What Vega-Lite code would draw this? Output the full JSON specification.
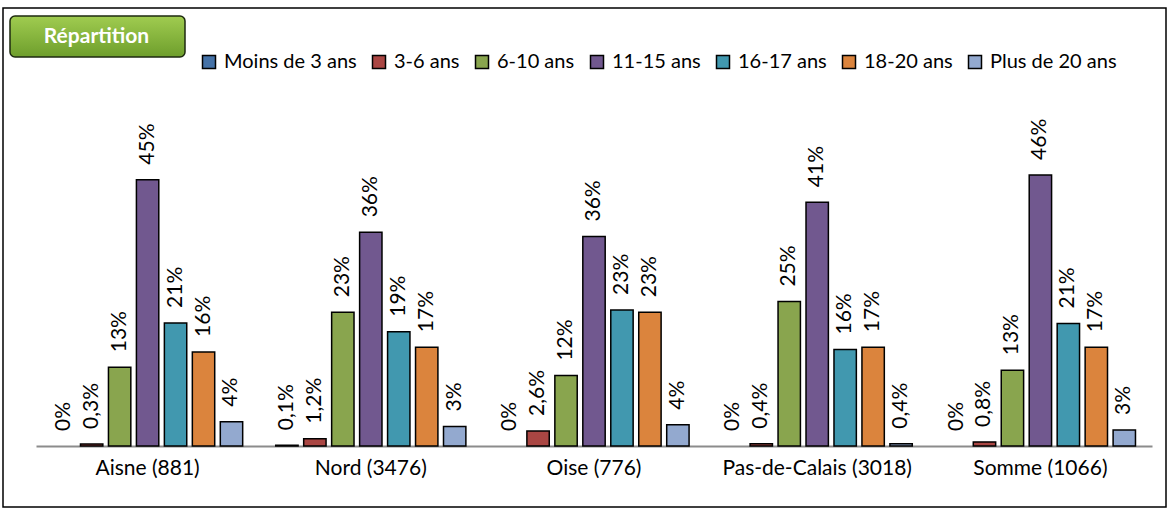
{
  "$schema": "https://vega.github.io/schema/vega-lite/v6.json",
  "width": 1163,
  "height": 499,
  "autosize": {"type": "none"},
  "padding": {"left": 3, "top": 8, "right": 3, "bottom": 6},
  "background": "white",
  "config": {
    "view": {"stroke": "black", "strokeWidth": 1.5},
    "font": "Lato"
  },
  "data": {
    "values": [
      {"region": "Aisne (881)", "age": "Moins de 3 ans", "value": 0, "label": "0%"},
      {"region": "Aisne (881)", "age": "3-6 ans", "value": 0.35, "label": "0,3%"},
      {"region": "Aisne (881)", "age": "6-10 ans", "value": 13.3, "label": "13%"},
      {"region": "Aisne (881)", "age": "11-15 ans", "value": 45.0, "label": "45%"},
      {"region": "Aisne (881)", "age": "16-17 ans", "value": 20.8, "label": "21%"},
      {"region": "Aisne (881)", "age": "18-20 ans", "value": 15.9, "label": "16%"},
      {"region": "Aisne (881)", "age": "Plus de 20 ans", "value": 4.1, "label": "4%"},
      {"region": "Nord (3476)", "age": "Moins de 3 ans", "value": 0.15, "label": "0,1%"},
      {"region": "Nord (3476)", "age": "3-6 ans", "value": 1.25, "label": "1,2%"},
      {"region": "Nord (3476)", "age": "6-10 ans", "value": 22.6, "label": "23%"},
      {"region": "Nord (3476)", "age": "11-15 ans", "value": 36.1, "label": "36%"},
      {"region": "Nord (3476)", "age": "16-17 ans", "value": 19.3, "label": "19%"},
      {"region": "Nord (3476)", "age": "18-20 ans", "value": 16.7, "label": "17%"},
      {"region": "Nord (3476)", "age": "Plus de 20 ans", "value": 3.3, "label": "3%"},
      {"region": "Oise (776)", "age": "Moins de 3 ans", "value": 0, "label": "0%"},
      {"region": "Oise (776)", "age": "3-6 ans", "value": 2.55, "label": "2,6%"},
      {"region": "Oise (776)", "age": "6-10 ans", "value": 11.9, "label": "12%"},
      {"region": "Oise (776)", "age": "11-15 ans", "value": 35.4, "label": "36%"},
      {"region": "Oise (776)", "age": "16-17 ans", "value": 23.0, "label": "23%"},
      {"region": "Oise (776)", "age": "18-20 ans", "value": 22.6, "label": "23%"},
      {"region": "Oise (776)", "age": "Plus de 20 ans", "value": 3.6, "label": "4%"},
      {"region": "Pas-de-Calais (3018)", "age": "Moins de 3 ans", "value": 0, "label": "0%"},
      {"region": "Pas-de-Calais (3018)", "age": "3-6 ans", "value": 0.4, "label": "0,4%"},
      {"region": "Pas-de-Calais (3018)", "age": "6-10 ans", "value": 24.4, "label": "25%"},
      {"region": "Pas-de-Calais (3018)", "age": "11-15 ans", "value": 41.2, "label": "41%"},
      {"region": "Pas-de-Calais (3018)", "age": "16-17 ans", "value": 16.3, "label": "16%"},
      {"region": "Pas-de-Calais (3018)", "age": "18-20 ans", "value": 16.7, "label": "17%"},
      {"region": "Pas-de-Calais (3018)", "age": "Plus de 20 ans", "value": 0.4, "label": "0,4%"},
      {"region": "Somme (1066)", "age": "Moins de 3 ans", "value": 0, "label": "0%"},
      {"region": "Somme (1066)", "age": "3-6 ans", "value": 0.7, "label": "0,8%"},
      {"region": "Somme (1066)", "age": "6-10 ans", "value": 12.8, "label": "13%"},
      {"region": "Somme (1066)", "age": "11-15 ans", "value": 45.8, "label": "46%"},
      {"region": "Somme (1066)", "age": "16-17 ans", "value": 20.7, "label": "21%"},
      {"region": "Somme (1066)", "age": "18-20 ans", "value": 16.7, "label": "17%"},
      {"region": "Somme (1066)", "age": "Plus de 20 ans", "value": 2.7, "label": "3%"}
    ]
  },
  "encoding": {
    "x": {
      "field": "region",
      "type": "nominal",
      "sort": null,
      "scale": {"range": [33, 1149], "paddingInner": 0.123, "paddingOuter": 0.0615},
      "axis": {
        "title": null,
        "orient": "bottom",
        "offset": -61,
        "labelAngle": 0,
        "ticks": false,
        "grid": false,
        "domainColor": "#8c8c8c",
        "domainWidth": 2,
        "labelFont": "Lato",
        "labelFontSize": 21,
        "labelColor": "#000000",
        "labelPadding": 11,
        "labelLimit": 400
      }
    },
    "xOffset": {
      "field": "age",
      "type": "nominal",
      "sort": ["Moins de 3 ans", "3-6 ans", "6-10 ans", "11-15 ans", "16-17 ans", "18-20 ans", "Plus de 20 ans"],
      "scale": {"paddingInner": 0.2, "paddingOuter": 0.1}
    },
    "y": {
      "field": "value",
      "type": "quantitative",
      "scale": {"domain": [-10.3, 74.0], "nice": false, "zero": false},
      "axis": null
    }
  },
  "layer": [
    {
      "transform": [{"filter": "datum.value > 0"}],
      "mark": {"type": "bar", "strokeWidth": 1.5},
      "encoding": {
        "y2": {"datum": 0},
        "fill": {
          "field": "age",
          "type": "nominal",
          "scale": {
            "domain": ["Moins de 3 ans", "3-6 ans", "6-10 ans", "11-15 ans", "16-17 ans", "18-20 ans", "Plus de 20 ans"],
            "range": ["#4572A7", "#AA4643", "#89A54E", "#71588F", "#4198AF", "#DB843D", "#93A9CF"]
          },
          "legend": {
            "title": null,
            "orient": "none",
            "direction": "horizontal",
            "legendX": 196,
            "legendY": 44,
            "padding": 0,
            "columnPadding": 12,
            "symbolType": "square",
            "symbolSize": 169,
            "symbolStrokeColor": "#000000",
            "symbolStrokeWidth": 1.5,
            "symbolOpacity": 1,
            "labelOffset": 5,
            "labelFont": "Lato",
            "labelFontSize": 20,
            "labelColor": "#000000",
            "labelLimit": 300
          }
        },
        "stroke": {
          "datum": "Répartition",
          "scale": {"range": ["#000000"]},
          "legend": {
            "title": null,
            "orient": "none",
            "legendX": 7,
            "legendY": 8,
            "padding": 10,
            "symbolType": "M-76.5,0H76.5",
            "symbolSize": 4,
            "symbolOpacity": 1,
            "symbolStrokeColor": "transparent",
            "symbolFillColor": "transparent",
            "symbolStrokeWidth": 1,
            "symbolDash": [0, 400],
            "symbolOffset": 66,
            "labelAlign": "center",
            "labelBaseline": "middle",
            "labelOffset": -10.5,
            "labelFont": "Lato",
            "labelFontWeight": "bold",
            "labelFontSize": 21,
            "labelColor": "#ffffff",
            "strokeColor": "#1e2a10",
            "cornerRadius": 5,
            "encode": {
              "legend": {
                "enter": {
                  "fill": {"value": {"gradient": "linear", "x1": 0, "y1": 0, "x2": 0, "y2": 1, "stops": [{"offset": 0, "color": "#A0CC50"}, {"offset": 1, "color": "#6E9E2C"}]}}
                },
                "update": {
                  "fill": {"value": {"gradient": "linear", "x1": 0, "y1": 0, "x2": 0, "y2": 1, "stops": [{"offset": 0, "color": "#A0CC50"}, {"offset": 1, "color": "#6E9E2C"}]}},
                  "strokeWidth": {"value": 1.5}
                }
              }
            }
          }
        }
      }
    },
    {
      "mark": {"type": "text", "angle": -90, "align": "left", "baseline": "middle", "dx": 15, "font": "Lato", "fontSize": 21, "color": "#000000"},
      "encoding": {
        "text": {"field": "label"}
      }
    }
  ]
}
